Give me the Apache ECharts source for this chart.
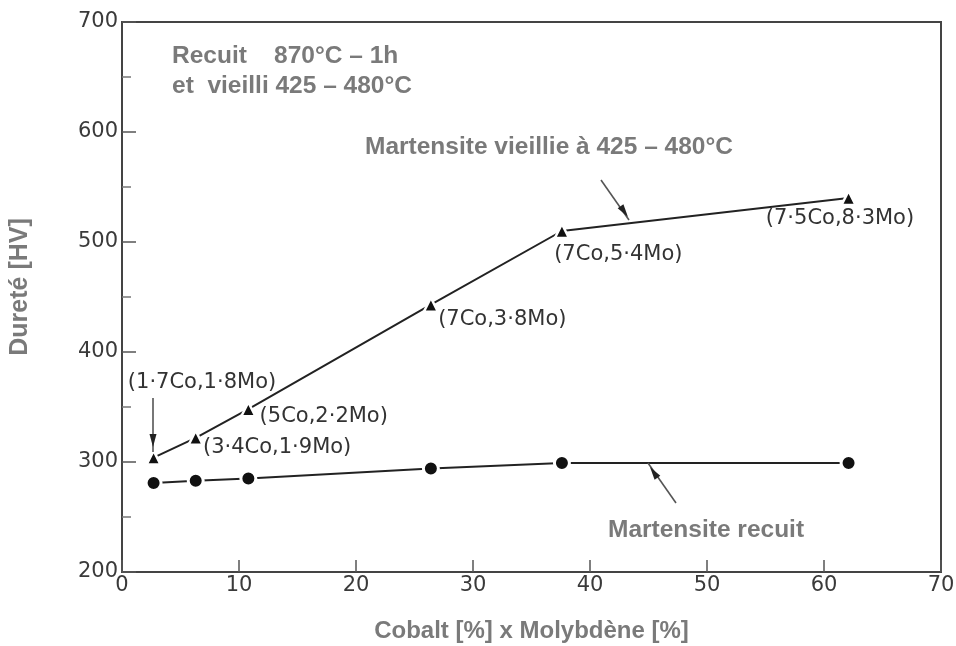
<!DOCTYPE html>
<html>
<head>
<meta charset="utf-8">
<script src="https://cdn.jsdelivr.net/npm/echarts@6/dist/echarts.min.js"></script>
<style>
html,body{margin:0;padding:0;background:#fff;}
#chart{width:956px;height:646px;}
</style>
</head>
<body>
<div id="chart"></div>
<script>
// Data
var coMoProduct = [2.7, 6.3, 10.8, 26.4, 37.6, 62.1];
var hvVieillie = [304, 322, 348, 443, 510, 540];
var hvRecuit = [281, 283, 285, 294, 299, 299];
var pointLabels = ['(1·7Co,1·8Mo)', '(3·4Co,1·9Mo)', '(5Co,2·2Mo)', '(7Co,3·8Mo)', '(7Co,5·4Mo)', '(7·5Co,8·3Mo)'];
var xTicks = [0, 10, 20, 30, 40, 50, 60, 70];
var yTicks = [200, 300, 400, 500, 600, 700];

var labelOffsets = [[-34, -75], [-1, 10], [3, 7], [-1, 15], [-16, 24], [-91, 21]];

var chart = echarts.init(document.getElementById('chart'));

var grayBold = {fontFamily: 'Liberation Sans, Arial, sans-serif', fontWeight: 'bold', fontSize: 24.5, fill: '#7a7a7a'};
function txt(s, x, y, extra) {
  var st = Object.assign({text: s, x: 0, y: 0, textVerticalAlign: 'middle', verticalAlign: 'middle'}, grayBold, extra || {});
  return {type: 'text', x: x, y: y, style: st, z: 10};
}
function arrow(x1, y1, x2, y2, tipx, tipy) {
  var dx = x2 - x1, dy = y2 - y1, L = Math.sqrt(dx * dx + dy * dy);
  var ux = dx / L, uy = dy / L, hl = 13, hw = 3.5;
  var bx = tipx - ux * hl, by = tipy - uy * hl;
  return [
    {type: 'line', shape: {x1: x1, y1: y1, x2: x2, y2: y2}, style: {stroke: '#555', lineWidth: 1.6}, z: 10},
    {type: 'polygon', shape: {points: [[tipx, tipy], [bx - uy * hw, by + ux * hw], [bx + uy * hw, by - ux * hw]]}, style: {fill: '#222'}, z: 10}
  ];
}

var tickFont = {color: '#3a3a3a', fontFamily: 'DejaVu Sans, sans-serif', fontSize: 21};

var option = {
  backgroundColor: '#fff',
  animation: false,
  grid: {left: 122, right: 15, top: 22, bottom: 74, show: true, borderColor: '#444', borderWidth: 2,
    backgroundColor: 'transparent', containLabel: false, outerBoundsMode: 'none'},
  xAxis: {
    type: 'value', min: xTicks[0], max: xTicks[xTicks.length - 1], interval: 10,
    name: 'Cobalt [%] x Molybdène [%]', nameLocation: 'middle', nameGap: 47,
    nameTextStyle: {color: '#7a7a7a', fontFamily: 'Liberation Sans, Arial, sans-serif', fontWeight: 'bold', fontSize: 24},
    axisLine: {show: true, lineStyle: {color: '#444', width: 2}},
    axisTick: {show: true, inside: true, length: 12, lineStyle: {color: '#555', width: 1.5}},
    axisLabel: Object.assign({margin: 3}, tickFont),
    splitLine: {show: false}
  },
  yAxis: {
    type: 'value', min: yTicks[0], max: yTicks[yTicks.length - 1], interval: 100,
    axisLine: {show: true, lineStyle: {color: '#444', width: 2}},
    axisTick: {show: true, inside: true, length: 14, lineStyle: {color: '#555', width: 1.5}},
    minorTick: {show: true, splitNumber: 2, length: 9, lineStyle: {color: '#777', width: 1.5}},
    axisLabel: Object.assign({margin: 4}, tickFont),
    splitLine: {show: false}
  },
  series: [
    {
      type: 'line', name: 'Martensite vieillie',
      data: coMoProduct.map(function (x, i) {
        return {
          value: [x, hvVieillie[i]],
          label: {show: true, position: 'right', distance: 0, offset: labelOffsets[i],
            formatter: pointLabels[i], color: '#333', fontFamily: 'DejaVu Sans, sans-serif', fontSize: 21}
        };
      }),
      symbol: 'triangle', symbolSize: 14,
      lineStyle: {color: '#222', width: 2},
      itemStyle: {color: '#111', borderColor: '#fff', borderWidth: 2.5},
      z: 5
    },
    {
      type: 'line', name: 'Martensite recuit',
      data: coMoProduct.map(function (x, i) { return [x, hvRecuit[i]]; }),
      symbol: 'circle', symbolSize: 15,
      lineStyle: {color: '#222', width: 2},
      itemStyle: {color: '#111', borderColor: '#fff', borderWidth: 3},
      z: 5
    }
  ],
  graphic: [
    txt('Recuit    870°C – 1h', 172, 56),
    txt('et  vieilli 425 – 480°C', 172, 86),
    txt('Martensite vieillie à 425 – 480°C', 365, 147),
    txt('Martensite recuit', 608, 530),
    {type: 'text', x: 20, y: 287, rotation: Math.PI / 2,
      style: Object.assign({text: 'Dureté [HV]', x: 0, y: 0, align: 'center', verticalAlign: 'middle'}, grayBold, {fontSize: 25}), z: 10}
  ].concat(arrow(153, 398, 153, 452, 153, 447))
   .concat(arrow(601, 180, 629, 220, 628, 217))
   .concat(arrow(676, 503, 648, 463, 650, 467))
};
chart.setOption(option);
</script>
</body>
</html>
